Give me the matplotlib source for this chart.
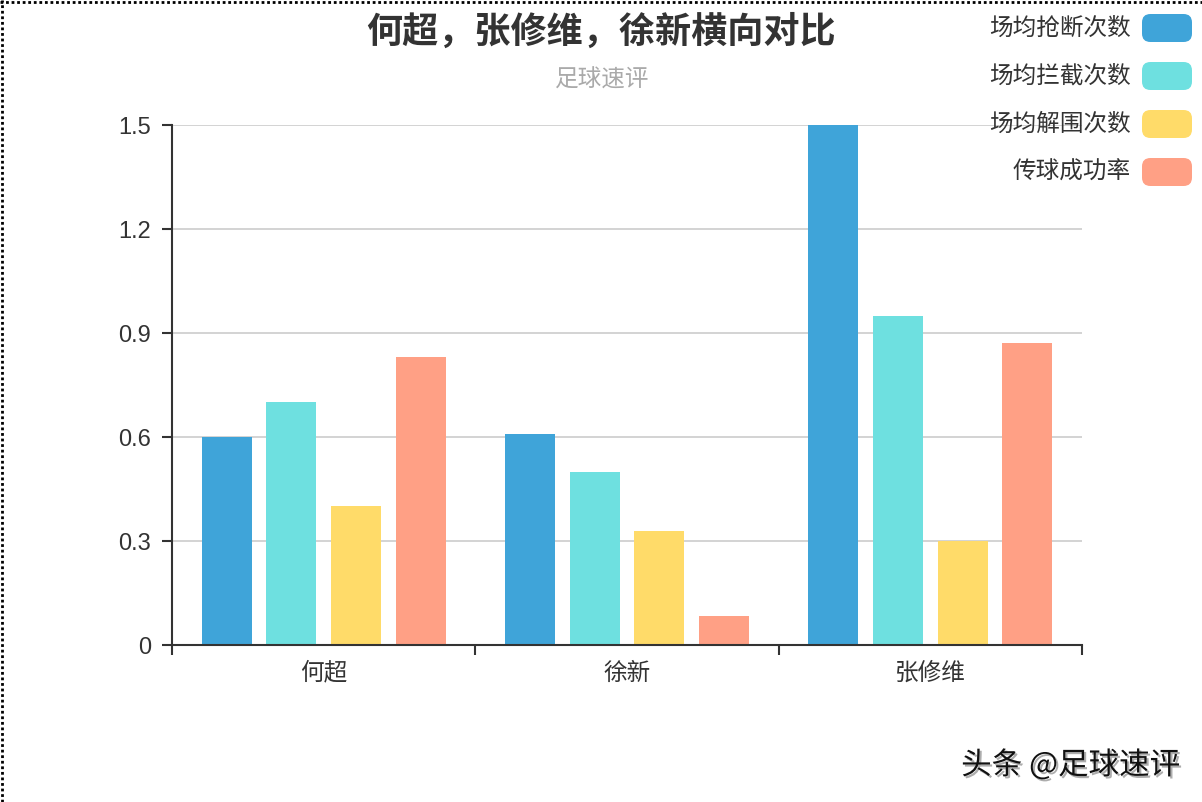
import matplotlib.pyplot as plt
import matplotlib.patheffects as pe
from matplotlib.patches import FancyBboxPatch
from matplotlib.lines import Line2D
import numpy as np

plt.rcParams['font.family'] = ['Noto Sans CJK SC', 'DejaVu Sans']

players = ["何超", "徐新", "张修维"]
series = ["场均抢断次数", "场均拦截次数", "场均解围次数", "传球成功率"]
steals = [0.6, 0.61, 1.5]
intercepts = [0.7, 0.5, 0.95]
clearances = [0.4, 0.33, 0.3]
pass_rate = [0.83, 0.085, 0.87]
values = [steals, intercepts, clearances, pass_rate]
colors = ["#3FA4D9", "#6EE0E0", "#FFDB69", "#FFA085"]
yticks = [0, 0.3, 0.6, 0.9, 1.2, 1.5]
ytick_labels = ["0", "0.3", "0.6", "0.9", "1.2", "1.5"]

fig = plt.figure(figsize=(12.02, 8.02), dpi=100)
ax = fig.add_axes([172 / 1202, 157 / 802, 910 / 1202, 520 / 802])

x = np.arange(len(players))
step = 0.213
width = 0.165
for i, (vals, c) in enumerate(zip(values, colors)):
    ax.bar(x + (i - 1.5) * step, vals, width=width, color=c, zorder=2)

ax.set_xlim(-0.5, 2.5)
ax.set_ylim(0, 1.5)
ax.set_yticks(yticks)
ax.set_yticklabels(ytick_labels, family='Liberation Sans')
ax.set_xticks(x)
ax.set_xticklabels(players)
ax.set_xticks([-0.5, 0.5, 1.5, 2.5], minor=True)
ax.tick_params(axis='x', which='major', length=0, pad=12, labelsize=17, colors='#333')
ax.tick_params(axis='x', which='minor', length=7, width=1.5, color='#333')
ax.tick_params(axis='y', length=7, width=1.5, color='#333', labelsize=17, labelcolor='#333', pad=8)
ax.grid(axis='y', color='#cccccc', lw=1.2, zorder=0)
ax.set_axisbelow(True)
for s in ['top', 'right']:
    ax.spines[s].set_visible(False)
for s in ['left', 'bottom']:
    ax.spines[s].set_color('#333')
    ax.spines[s].set_linewidth(1.5)

fig.text(0.5, 1 - 32 / 802, "何超，张修维，徐新横向对比", ha='center', va='center',
         fontsize=26, fontweight='bold', color='#333')
fig.text(602 / 1202, 1 - 80 / 802, "足球速评", ha='center', va='center',
         fontsize=17, color='#aaaaaa')

# legend
for k, (name, c) in enumerate(zip(series, colors)):
    yc = 28 + k * 48
    fig.text(1131 / 1202, 1 - yc / 802, name, ha='right', va='center',
             fontsize=17, color='#333')
    fig.patches.append(FancyBboxPatch((1142 / 1202, 1 - (yc + 14) / 802),
                                      50 / 1202, 28 / 802,
                                      boxstyle="round,pad=0,rounding_size=0.007",
                                      transform=fig.transFigure, facecolor=c,
                                      edgecolor='none', mutation_aspect=1.5))

# dotted frame
fig.add_artist(Line2D([0, 1], [1 - 2 / 802, 1 - 2 / 802], transform=fig.transFigure,
                      color='black', lw=2, ls=(0, (1, 1))))
fig.add_artist(Line2D([2 / 1202, 2 / 1202], [0, 1], transform=fig.transFigure,
                      color='black', lw=2, ls=(0, (1, 1))))

fig.text(1180 / 1202, 1 - 765 / 802, "头条 @足球速评", ha='right', va='center',
         fontsize=22, color='#111',
         path_effects=[pe.withSimplePatchShadow(offset=(1.5, -1.5), shadow_rgbFace='#999', alpha=0.8)])

fig.savefig("out.png", dpi=100)
